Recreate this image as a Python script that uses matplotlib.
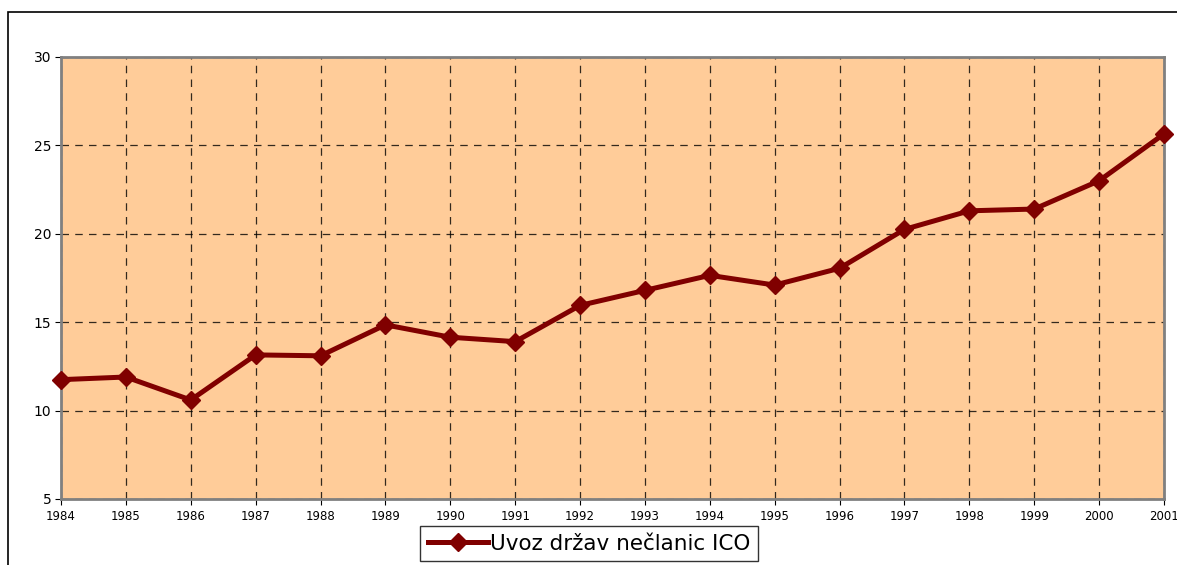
import matplotlib.pyplot as plt
from matplotlib.patches import Rectangle

years = [1984, 1985, 1986, 1987, 1988, 1989, 1990, 1991, 1992,
         1993, 1994, 1995, 1996, 1997, 1998, 1999, 2000, 2001]
uvoz = [11.75, 11.9, 10.6, 13.15, 13.1, 14.85, 14.15, 13.9, 15.95,
        16.8, 17.65, 17.1, 18.05, 20.25, 21.3, 21.4, 23.0, 25.65]
label = 'Uvoz držav nečlanic ICO'

fig = plt.figure(figsize=(11.77, 5.65), dpi=100)

# outer chart frame (only left and top visible)
fig.patches.append(Rectangle((8 / 1177, -0.1), 1.2, 1.1 - 12 / 565,
                             transform=fig.transFigure, fill=False,
                             edgecolor='black', linewidth=1.2))

ax = fig.add_axes([61 / 1177, 1 - 499 / 565, (1164 - 61) / 1177, (499 - 57) / 565])
ax.set_facecolor('#FFCC99')
for s in ax.spines.values():
    s.set_color('#808080')
    s.set_linewidth(2)

ax.plot(years, uvoz, color='#800000', linewidth=3.6, marker='D',
        markersize=9, label=label, zorder=3, clip_on=False)

ax.set_xlim(1984, 2001)
ax.set_ylim(5, 30)
ax.set_xticks(years)
ax.set_yticks([5, 10, 15, 20, 25, 30])
ax.grid(True, color='black', linestyle=(0, (6, 5)), linewidth=0.9, alpha=0.8)
ax.tick_params(axis='x', labelsize=8.5, length=4, pad=4)
ax.tick_params(axis='y', labelsize=10, length=4, pad=3)

ax.legend(loc='upper center', bbox_to_anchor=(0.479, -0.062), fontsize=15.5,
          frameon=True, fancybox=False, edgecolor='black', handlelength=2.8,
          borderpad=0.35, handletextpad=0.1, borderaxespad=0)

fig.savefig('out.png', dpi=100)
